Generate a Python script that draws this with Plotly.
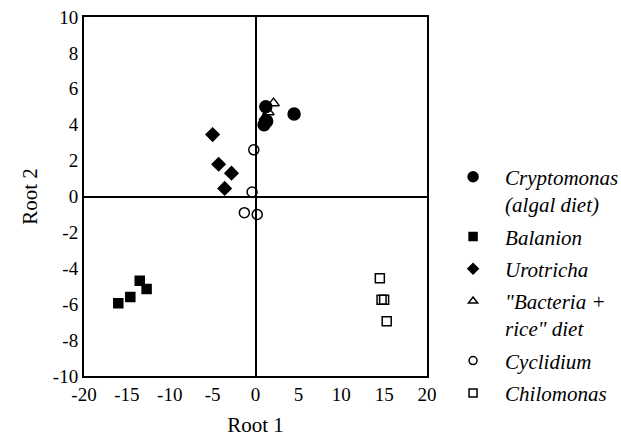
import plotly.graph_objects as go

# Discriminant function scores (Root 1, Root 2) per diet / prey group
crypto_x = [1.2, 1.3, 1.0, 4.5]
crypto_y = [5.0, 4.2, 4.0, 4.6]

balanion_x = [-16.0, -14.6, -13.5, -12.7]
balanion_y = [-5.95, -5.6, -4.7, -5.15]

urotricha_x = [-5.0, -4.3, -2.8, -3.6]
urotricha_y = [3.45, 1.8, 1.3, 0.45]

bacteria_x = [2.1, 1.5, 1.1]
bacteria_y = [5.2, 4.7, 4.4]

cyclidium_x = [-0.2, -0.4, -1.3, 0.2]
cyclidium_y = [2.6, 0.25, -0.9, -1.0]

chilomonas_x = [14.5, 14.7, 15.0, 15.3]
chilomonas_y = [-4.55, -5.75, -5.75, -6.95]

x_ticks = [-20, -15, -10, -5, 0, 5, 10, 15, 20]
x_tick_labels = ["-20", "-15", "-10", "-5", "0", "5", "10", "15", "20"]
y_ticks = [-10, -8, -6, -4, -2, 0, 2, 4, 6, 8, 10]
y_tick_labels = ["-10", "-8", "-6", "-4", "-2", "0", "2", "4", "6", "8", "10"]

FONT = "Liberation Serif"

# name, x, y, symbol, plot marker size, legend marker size
series = [
    ("Cryptomonas<br>(algal diet)", crypto_x, crypto_y, "circle", 12, 10),
    ("Balanion", balanion_x, balanion_y, "square", 9, 8),
    ("Urotricha", urotricha_x, urotricha_y, "diamond", 10, 8),
    ("\"Bacteria +<br>rice\" diet", bacteria_x, bacteria_y, "triangle-up-open", 10, 8),
    ("Cyclidium", cyclidium_x, cyclidium_y, "circle-open", 10, 8),
    ("Chilomonas", chilomonas_x, chilomonas_y, "square-open", 9, 8),
]

fig = go.Figure()
for i, (name, xs, ys, sym, size, lsize) in enumerate(series):
    fig.add_trace(go.Scatter(
        x=xs, y=ys, mode="markers", name=name, showlegend=False,
        marker=dict(symbol=sym, size=size, color="black",
                    line=dict(color="black", width=1.5)),
    ))
    # legend key with a smaller symbol
    fig.add_trace(go.Scatter(
        x=[None], y=[None], mode="markers", name=name, showlegend=True,
        legendgroup=f"g{i}",
        marker=dict(symbol=sym, size=lsize, color="black",
                    line=dict(color="black", width=1.5)),
    ))

axis_common = dict(
    showgrid=False,
    zeroline=True, zerolinecolor="black", zerolinewidth=2,
    showline=True, linecolor="black", linewidth=2, mirror=True,
    ticks="", tickfont=dict(size=19, color="black", family=FONT),
)

fig.update_xaxes(range=[-20, 20], tickvals=x_ticks, ticktext=x_tick_labels,
                 title=dict(text="Root 1", font=dict(size=21, family=FONT, color="black"),
                            standoff=14),
                 **axis_common)
fig.update_yaxes(range=[-10, 10], tickvals=y_ticks, ticktext=y_tick_labels,
                 title=dict(text="Root 2", font=dict(size=21, family=FONT, color="black"),
                            standoff=10),
                 **axis_common)

fig.update_layout(
    width=621, height=441,
    margin=dict(l=84, r=194, t=17, b=65, autoexpand=False),
    paper_bgcolor="white", plot_bgcolor="white",
    font=dict(family=FONT, color="black", size=19),
    legend=dict(x=1.041, y=0.611, xanchor="left", yanchor="top",
                font=dict(size=21, family=FONT, color="black", style="italic"),
                tracegroupgap=2, itemwidth=54, valign="top",
                bgcolor="rgba(0,0,0,0)"),
)

fig.write_html("out.html")
